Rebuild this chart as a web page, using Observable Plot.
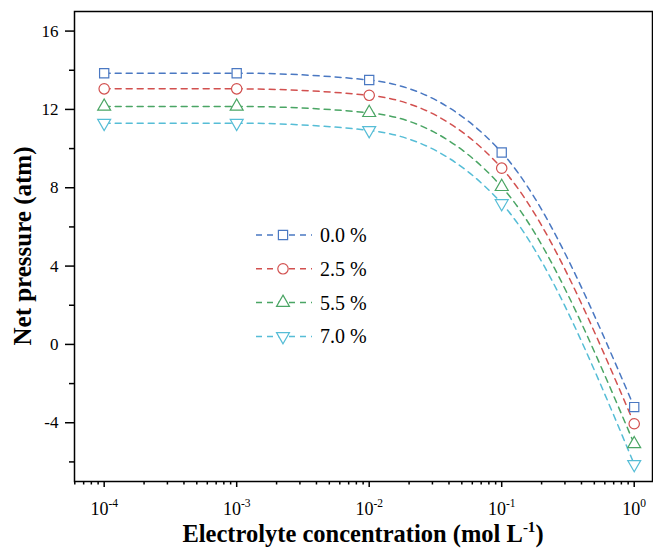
<!DOCTYPE html>
<html>
<head>
<meta charset="utf-8">
<script src="https://cdn.jsdelivr.net/npm/d3@7"></script>
<script src="https://cdn.jsdelivr.net/npm/@observablehq/plot@0.6"></script>
<style>
  html, body { margin: 0; padding: 0; background: #fff; }
  #chart { width: 653px; height: 554px; }
</style>
</head>
<body>
<div id="chart"></div>
<script>
// ---- data ----
const concentrations = [1e-4, 1e-3, 1e-2, 1e-1, 1];
const seriesNames = ["0.0 %", "2.5 %", "5.5 %", "7.0 %"];
const pressure00 = [13.85, 13.85, 13.5, 9.8, -3.2];
const pressure25 = [13.05, 13.05, 12.72, 9.0, -4.05];
const pressure55 = [12.15, 12.15, 11.83, 8.05, -5.08];
const pressure70 = [11.3, 11.3, 10.93, 7.2, -6.12];
const majorXTicks = [1e-4, 1e-3, 1e-2, 1e-1, 1];
const majorYTicks = [-4, 0, 4, 8, 12, 16];
const minorYTicks = [-6, -2, 2, 6, 10, 14];
const xLabel = "Electrolyte concentration (mol L";
const yLabel = "Net pressure (atm)";

// ---- styles ----
const FONT = "'Liberation Serif', 'Times New Roman', serif";
const colors = ["#4a78c2", "#d2504f", "#4aa564", "#56bdd6"];
const triangleDown = {
  draw(context, size) {
    const y = Math.sqrt(size / (Math.sqrt(3) * 3));
    context.moveTo(0, y * 2);
    context.lineTo(-Math.sqrt(3) * y, -y);
    context.lineTo(Math.sqrt(3) * y, -y);
    context.closePath();
  }
};
const symbols = ["square", "circle", "triangle", triangleDown];
const d3symbols = [d3.symbolSquare, d3.symbolCircle, d3.symbolTriangle, triangleDown];
const radii = [5.2, 5.2, 4.8, 4.8];

const allSeries = [pressure00, pressure25, pressure55, pressure70];
const tables = allSeries.map((vals, i) =>
  concentrations.map((c, j) => ({x: c, y: vals[j], s: seriesNames[i]}))
);

const xDomain = [5.97e-5, 1.374];
const minorXTicks = d3.scaleLog().domain(xDomain).ticks()
  .filter(t => Math.abs(Math.log10(t) - Math.round(Math.log10(t))) > 1e-6);

const marks = [];
tables.forEach((t, i) => {
  marks.push(Plot.line(t, {x: "x", y: "y", stroke: colors[i], strokeWidth: 1.5,
    strokeDasharray: "6,5", curve: "monotone-x"}));
});
tables.forEach((t, i) => {
  marks.push(Plot.dot(t, {x: "x", y: "y", symbol: symbols[i], r: radii[i],
    stroke: colors[i], fill: "white", strokeWidth: 1.2}));
});

const chart = Plot.plot({
  width: 653,
  height: 554,
  marginLeft: 74,
  marginRight: 1,
  marginTop: 11,
  marginBottom: 73,
  style: {fontFamily: FONT, fontSize: "17px", color: "black", background: "white", overflow: "visible"},
  x: {type: "log", domain: xDomain},
  y: {domain: [-7, 17]},
  marks: [
    Plot.axisX({ticks: minorXTicks, tickSize: 3.5, tickFormat: () => "", strokeWidth: 1.5, label: null}),
    Plot.axisX({ticks: majorXTicks, tickSize: 6, tickPadding: 15, strokeWidth: 1.5, label: null, fontSize: 18,
      tickFormat: d => String(Math.round(Math.log10(d)))}),
    Plot.axisY({ticks: minorYTicks, tickSize: 5, tickFormat: () => "", strokeWidth: 1.5, label: null}),
    Plot.axisY({ticks: majorYTicks, tickSize: 9, tickPadding: 7, strokeWidth: 1.5, label: null,
      tickFormat: d => String(d)}),
    ...marks,
    Plot.frame({stroke: "black", strokeWidth: 1.5})
  ]
});

document.getElementById("chart").appendChild(chart);
const svg = d3.select(chart);

// x tick labels as 10^n
svg.selectAll('g[aria-label="x-axis tick label"] text').each(function() {
  const t = d3.select(this);
  const e = t.text();
  if (e === "") return;
  t.text("10");
  t.append("tspan").attr("dy", -8).attr("font-size", "11.5px").text(e);
});

// axis titles
svg.append("text")
  .attr("transform", "translate(31,246) rotate(-90)")
  .attr("text-anchor", "middle")
  .attr("font-weight", "bold")
  .attr("font-size", "25px")
  .attr("font-family", FONT)
  .attr("fill", "black")
  .text(yLabel);

const xl = svg.append("text")
  .attr("x", 363)
  .attr("y", 542)
  .attr("text-anchor", "middle")
  .attr("font-weight", "bold")
  .attr("font-size", "24.5px")
  .attr("font-family", FONT)
  .attr("fill", "black");
xl.append("tspan").text(xLabel);
xl.append("tspan").attr("dy", -10).attr("font-size", "15px").text("-1");
xl.append("tspan").attr("dy", 10).text(")");

// legend
const lg = svg.append("g");
seriesNames.forEach((name, i) => {
  const yy = 235 + i * 33.8;
  lg.append("line").attr("x1", 256).attr("x2", 312).attr("y1", yy).attr("y2", yy)
    .attr("stroke", colors[i]).attr("stroke-width", 1.5).attr("stroke-dasharray", "6,5");
  lg.append("path")
    .attr("d", d3.symbol().type(d3symbols[i]).size(Math.PI * radii[i] * radii[i])())
    .attr("transform", `translate(283,${yy})`)
    .attr("fill", "white").attr("stroke", colors[i]).attr("stroke-width", 1.2);
  lg.append("text").attr("x", 320).attr("y", yy + 7)
    .attr("text-anchor", "start")
    .attr("font-size", "20px")
    .attr("font-family", FONT)
    .attr("fill", "black")
    .text(name);
});
</script>
</body>
</html>
